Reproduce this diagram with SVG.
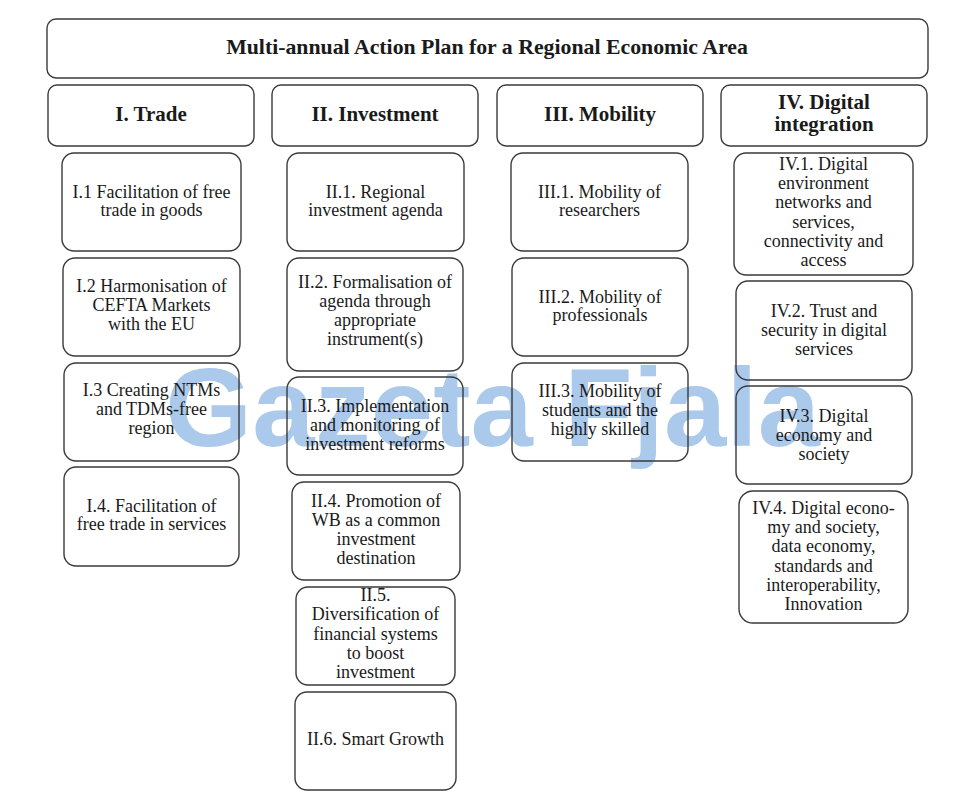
<svg xmlns="http://www.w3.org/2000/svg" width="980" height="808" viewBox="0 0 980 808">
<style>
.bx{fill:none;stroke:#3a3a3a;stroke-width:1.4}
.t{font-family:"Liberation Serif","Times New Roman",serif;font-size:18px;fill:#1a1a1a;text-anchor:middle}
.h{font-family:"Liberation Serif","Times New Roman",serif;font-size:21px;font-weight:bold;fill:#1a1a1a;text-anchor:middle}
.wm{font-family:"Liberation Sans",Arial,sans-serif;font-size:112px;font-weight:bold;fill:#abc9eb}
</style>
<rect width="980" height="808" fill="#ffffff"/>
<text class="wm" x="165" y="446" textLength="655" lengthAdjust="spacing">Gazeta Fjala</text>
<g id="connectors"></g>
<g id="title"><rect class="bx" x="47" y="19" width="881" height="59" rx="9"/><text class="h" x="487" y="54" style="font-size:21.8px">Multi-annual Action Plan for a Regional Economic Area</text></g>
<g id="h1"><rect class="bx" x="48" y="85" width="206" height="61" rx="9"/><text class="h" x="151" y="121">I. Trade</text></g>
<g id="h2"><rect class="bx" x="272" y="85" width="206" height="61" rx="9"/><text class="h" x="375" y="121">II. Investment</text></g>
<g id="h3"><rect class="bx" x="497" y="85" width="206" height="61" rx="9"/><text class="h" x="600" y="121">III. Mobility</text></g>
<g id="h4"><rect class="bx" x="721" y="85" width="206" height="61" rx="9"/><text class="h" x="824" y="109">IV. Digital</text><text class="h" x="824" y="131">integration</text></g>

<g id="n11"><rect class="bx" x="62" y="153" width="179" height="98" rx="12"/><text class="t" x="151.5" y="198">I.1 Facilitation of free</text><text class="t" x="151.5" y="216">trade in goods</text></g>
<g id="n12"><rect class="bx" x="63" y="258" width="177" height="98" rx="12"/><text class="t" x="151.5" y="292">I.2 Harmonisation of</text><text class="t" x="151.5" y="311">CEFTA Markets</text><text class="t" x="151.5" y="330">with the EU</text></g>
<g id="n13"><rect class="bx" x="64" y="363" width="175" height="98" rx="12"/><text class="t" x="151.5" y="396">I.3 Creating NTMs</text><text class="t" x="151.5" y="415">and TDMs-free</text><text class="t" x="151.5" y="434">region</text></g>
<g id="n14"><rect class="bx" x="64" y="467" width="175" height="99" rx="12"/><text class="t" x="151.5" y="512">I.4. Facilitation of</text><text class="t" x="151.5" y="530">free trade in services</text></g>

<g id="n21"><rect class="bx" x="287" y="153" width="177" height="98" rx="12"/><text class="t" x="375.5" y="198">II.1. Regional</text><text class="t" x="375.5" y="216">investment agenda</text></g>
<g id="n22"><rect class="bx" x="287" y="258" width="176" height="113" rx="12"/><text class="t" x="375" y="288">II.2. Formalisation of</text><text class="t" x="375" y="307">agenda through</text><text class="t" x="375" y="326">appropriate</text><text class="t" x="375" y="345">instrument(s)</text></g>
<g id="n23"><rect class="bx" x="287" y="377" width="176" height="98" rx="12"/><text class="t" x="375" y="412">II.3. Implementation</text><text class="t" x="375" y="431">and monitoring of</text><text class="t" x="375" y="450">investment reforms</text></g>
<g id="n24"><rect class="bx" x="292" y="482" width="168" height="98" rx="12"/><text class="t" x="376" y="507">II.4. Promotion of</text><text class="t" x="376" y="526">WB as a common</text><text class="t" x="376" y="545">investment</text><text class="t" x="376" y="564">destination</text></g>
<g id="n25"><rect class="bx" x="296" y="587" width="159" height="98" rx="12"/><text class="t" x="375.5" y="601">II.5.</text><text class="t" x="375.5" y="620">Diversification of</text><text class="t" x="375.5" y="640">financial systems</text><text class="t" x="375.5" y="659">to boost</text><text class="t" x="375.5" y="678">investment</text></g>
<g id="n26"><rect class="bx" x="295" y="692" width="161" height="98" rx="12"/><text class="t" x="375.5" y="745">II.6. Smart Growth</text></g>

<g id="n31"><rect class="bx" x="511" y="153" width="177" height="98" rx="12"/><text class="t" x="599.5" y="198">III.1. Mobility of</text><text class="t" x="599.5" y="216">researchers</text></g>
<g id="n32"><rect class="bx" x="512" y="258" width="176" height="98" rx="12"/><text class="t" x="600" y="303">III.2. Mobility of</text><text class="t" x="600" y="321">professionals</text></g>
<g id="n33"><rect class="bx" x="512" y="363" width="176" height="98" rx="12"/><text class="t" x="600" y="397">III.3. Mobility of</text><text class="t" x="600" y="416">students and the</text><text class="t" x="600" y="435">highly skilled</text></g>

<g id="n41"><rect class="bx" x="734" y="153" width="179" height="122" rx="12"/><text class="t" x="823.5" y="170">IV.1. Digital</text><text class="t" x="823.5" y="189">environment</text><text class="t" x="823.5" y="208">networks and</text><text class="t" x="823.5" y="228">services,</text><text class="t" x="823.5" y="247">connectivity and</text><text class="t" x="823.5" y="266">access</text></g>
<g id="n42"><rect class="bx" x="736" y="281" width="176" height="99" rx="12"/><text class="t" x="824" y="317">IV.2. Trust and</text><text class="t" x="824" y="336">security in digital</text><text class="t" x="824" y="355">services</text></g>
<g id="n43"><rect class="bx" x="736" y="386" width="176" height="98" rx="12"/><text class="t" x="824" y="422">IV.3. Digital</text><text class="t" x="824" y="441">economy and</text><text class="t" x="824" y="460">society</text></g>
<g id="n44"><rect class="bx" x="739" y="491" width="169" height="132" rx="14"/><text class="t" x="823.5" y="514">IV.4. Digital econo-</text><text class="t" x="823.5" y="533">my and society,</text><text class="t" x="823.5" y="552">data economy,</text><text class="t" x="823.5" y="572">standards and</text><text class="t" x="823.5" y="591">interoperability,</text><text class="t" x="823.5" y="610">Innovation</text></g>
</svg>
